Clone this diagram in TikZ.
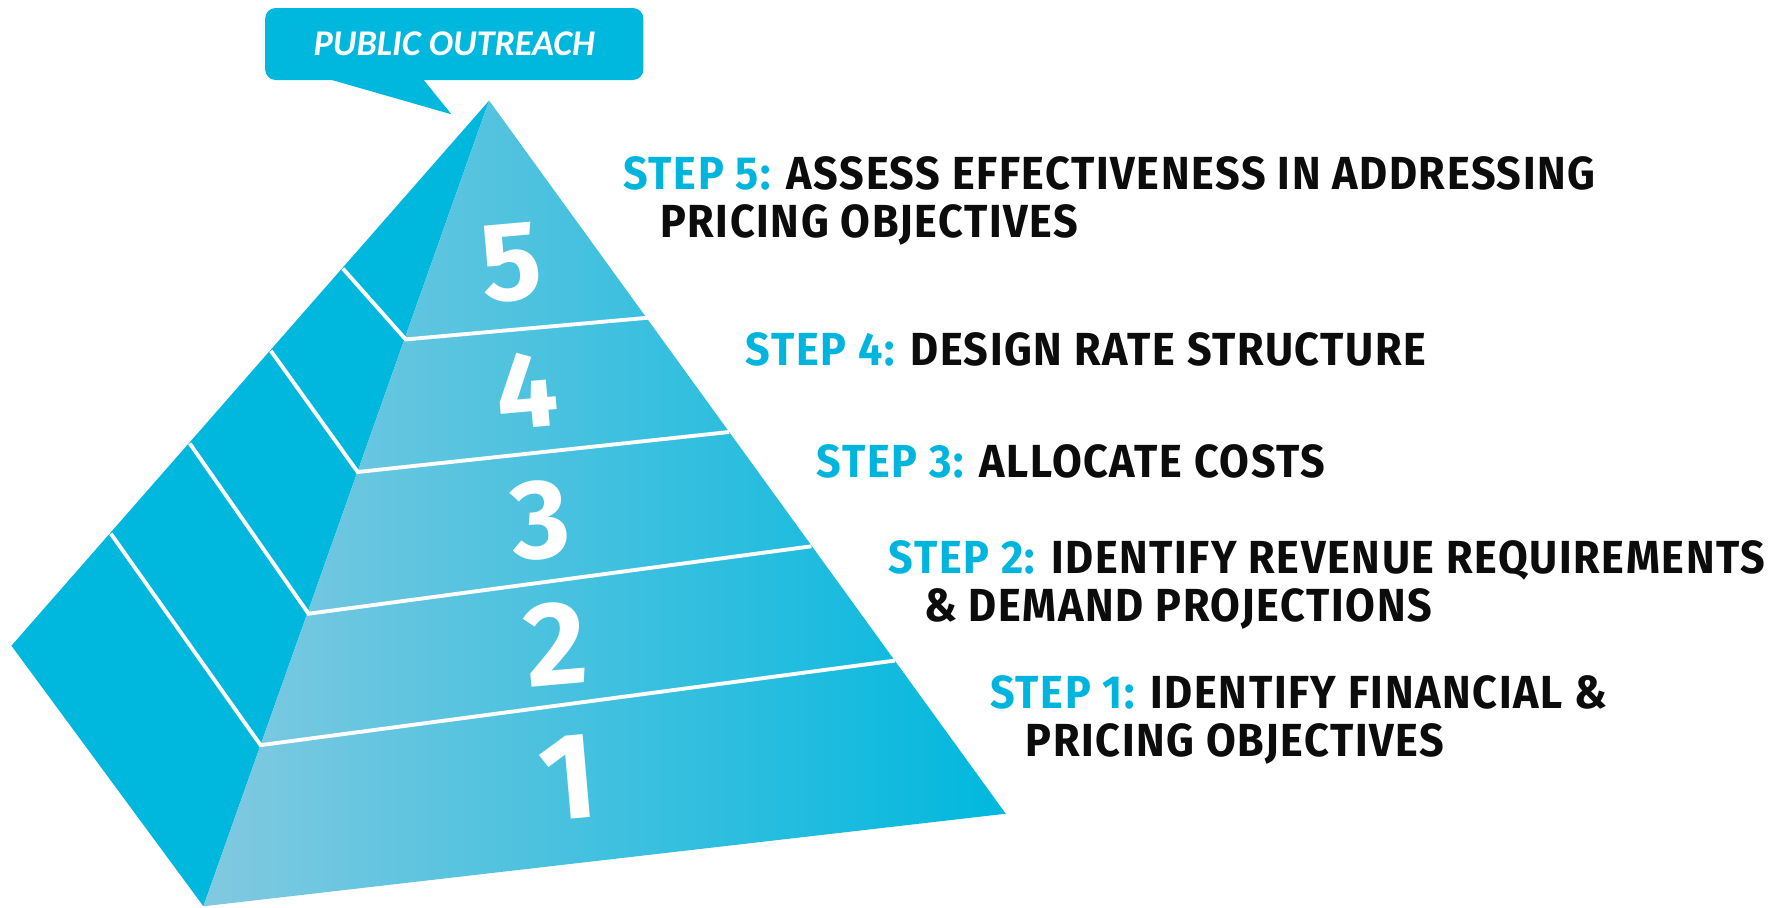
\documentclass[tikz,border=0pt]{standalone}
\usepackage{fontspec}
\setmainfont{Liberation Sans}
\newfontfamily\stepfont{Fira Sans}[FakeStretch=0.93,LetterSpace=3.5]
\newfontfamily\bubblefont{Carlito}
\newfontfamily\digitfont{Fira Sans}
\definecolor{cyanA}{RGB}{0,184,222}
\definecolor{lightA}{RGB}{130,201,224}
\definecolor{steptxt}{RGB}{0,181,221}
\definecolor{blacktxt}{RGB}{12,12,12}
\tikzset{
  bubble/.style={fill=cyanA, rounded corners=3pt, minimum width=3.783cm, minimum height=0.72cm, inner sep=0pt,
    text=white, font=\bubblefont\fontsize{10.3}{11}\selectfont\bfseries\itshape},
  sepline/.style={white, line width=1.1pt},
  digit/.style={text=white, inner sep=0pt, rotate=5},
  steptext/.style={anchor=base west, inner sep=0pt, text=blacktxt, font=\stepfont\fontsize{13.2}{15}\selectfont\bfseries},
}
\newcommand{\stp}[1]{\textcolor{steptxt}{#1}}
\begin{document}
\begin{tikzpicture}[x=0.0114286cm, y=-0.0114286cm]
\useasboundingbox (0,0) rectangle (1568,794);
% pyramid corners
\coordinate (A) at (428,88);
\coordinate (L) at (10,565);
\coordinate (B) at (178,793);
\coordinate (R) at (880,712);
% level points on front-left edge
\coordinate (f4) at (355,297);
\coordinate (f3) at (313,413);
\coordinate (f2) at (270,537);
\coordinate (f1) at (228,652);
% right edge
\coordinate (r4) at (567,278);
\coordinate (r3) at (638,378);
\coordinate (r2) at (710,478);
\coordinate (r1) at (783,578);
% left edge
\coordinate (l4) at (300,235);
\coordinate (l3) at (237,307);
\coordinate (l2) at (166,388);
\coordinate (l1) at (97,467);
% faces
\fill[cyanA] (A) -- (L) -- (B) -- cycle;
\shade[left color=lightA, right color=cyanA] (A) -- (B) -- (R) -- cycle;
% separators
\foreach \i in {1,2,3,4} {
  \draw[sepline] (l\i) -- (f\i) -- (r\i);
}
% digits
\node[digit, font=\digitfont\bfseries\fontsize{32}{32}\selectfont] (d5) at (447,230) {5};
\node[digit, font=\digitfont\bfseries\fontsize{31}{31}\selectfont] (d4) at (461,341) {4};
\node[digit, font=\digitfont\bfseries\fontsize{32}{32}\selectfont] (d3) at (473,455) {3};
\node[digit, font=\digitfont\bfseries\fontsize{34}{34}\selectfont] (d2) at (486,563) {2};
\node[digit, font=\digitfont\bfseries\fontsize{35}{35}\selectfont] (d1) at (497,680) {1};
% bubble
\node[bubble] (po) at (397.5,38.5) {PUBLIC OUTREACH};
\coordinate (tip) at (395,100);
\fill[cyanA] (287,69) -- (tip) -- (370,69) -- cycle;
% step texts
\node[steptext] (s5a) at (545,166) {\stp{STEP 5:} ASSESS EFFECTIVENESS IN ADDRESSING};
\node[steptext] (s5b) at (577,208) {PRICING OBJECTIVES};
\node[steptext] (s4a) at (652,320) {\stp{STEP 4:} DESIGN RATE STRUCTURE};
\node[steptext] (s3a) at (714,418) {\stp{STEP 3:} ALLOCATE COSTS};
\node[steptext] (s2a) at (777,502) {\stp{STEP 2:} IDENTIFY REVENUE REQUIREMENTS};
\node[steptext] (s2b) at (808,544) {\& DEMAND PROJECTIONS};
\node[steptext] (s1a) at (866,620) {\stp{STEP 1:} IDENTIFY FINANCIAL \&};
\node[steptext] (s1b) at (897,662) {PRICING OBJECTIVES};
\end{tikzpicture}
\end{document}
